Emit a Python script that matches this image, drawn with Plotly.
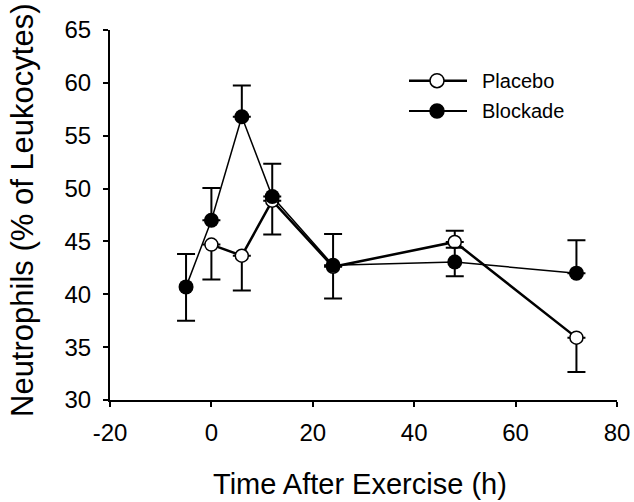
import plotly.graph_objects as go

# Data
time_blockade = [-5, 0, 6, 12, 24, 48, 72]
blockade = [40.7, 47.0, 56.8, 49.25, 42.75, 43.05, 42.0]
blockade_err_up = [3.1, 3.05, 2.95, 3.1, 2.95, 1.35, 3.1]
blockade_err_down = [3.2, 0, 0, 0, 0, 1.35, 0]

time_placebo = [0, 6, 12, 24, 48, 72]
placebo = [44.7, 43.65, 48.85, 42.6, 44.95, 35.9]
placebo_err_up = [0, 0, 0, 0, 1.05, 0]
placebo_err_down = [3.3, 3.3, 3.2, 3.0, 0, 3.25]

x_ticks = [-20, 0, 20, 40, 60, 80]
y_ticks = [30, 35, 40, 45, 50, 55, 60, 65]

legend_names = ["Placebo", "Blockade"]

font_family = "Liberation Sans, Arial, sans-serif"

W, H = 634, 502
L, R, T, B = 110, 17, 30, 102
PW, PH = W - L - R, H - T - B


def px_x(p):
    return (p - L) / PW


def px_y(p):
    return (H - B - p) / PH


fig = go.Figure()

fig.add_trace(go.Scatter(
    x=time_placebo, y=placebo, name=legend_names[0], mode="lines+markers",
    line=dict(color="black", width=2.5),
    marker=dict(symbol="circle", size=13, color="white",
                line=dict(color="black", width=1.5)),
    error_y=dict(type="data", symmetric=False, array=placebo_err_up,
                 arrayminus=placebo_err_down, color="black",
                 thickness=2, width=9),
))

fig.add_trace(go.Scatter(
    x=time_blockade, y=blockade, name=legend_names[1], mode="lines+markers",
    line=dict(color="black", width=1.5),
    marker=dict(symbol="circle", size=15, color="black",
                line=dict(color="black", width=0)),
    error_y=dict(type="data", symmetric=False, array=blockade_err_up,
                 arrayminus=blockade_err_down, color="black",
                 thickness=2, width=9),
))

# Custom legend (longer line samples, as in the reference)
shapes = []
annotations = []
legend_rows = [(legend_names[0], 80.7, "white", 2.5), (legend_names[1], 111, "black", 1.8)]
for name, py, fill, lw in legend_rows:
    shapes.append(dict(type="line", xref="paper", yref="paper",
                       x0=px_x(409), x1=px_x(467), y0=px_y(py), y1=px_y(py),
                       line=dict(color="black", width=lw)))
    shapes.append(dict(type="circle", xref="paper", yref="paper",
                       xsizemode="pixel", ysizemode="pixel",
                       xanchor=px_x(437), yanchor=px_y(py),
                       x0=-7, x1=7, y0=-7, y1=7,
                       fillcolor=fill, line=dict(color="black", width=1.5)))
    annotations.append(dict(text=name, xref="paper", yref="paper",
                            x=px_x(480), y=px_y(py), xanchor="left", yanchor="middle",
                            showarrow=False, font=dict(size=20, color="black")))

# Axis titles
annotations.append(dict(text="Time After Exercise (h)", xref="paper", yref="paper",
                        x=px_x(359.5), y=px_y(484), xanchor="center", yanchor="middle",
                        showarrow=False, font=dict(size=29, color="black")))
annotations.append(dict(text="Neutrophils (% of Leukocytes)", xref="paper", yref="paper",
                        x=px_x(22), y=px_y(210), xanchor="center", yanchor="middle",
                        textangle=-90, showarrow=False, font=dict(size=31, color="black")))

fig.update_layout(
    width=W, height=H,
    margin=dict(l=L, r=R, t=T, b=B),
    paper_bgcolor="white", plot_bgcolor="white",
    font=dict(family=font_family, size=24, color="black"),
    showlegend=False,
    shapes=shapes,
    annotations=annotations,
    xaxis=dict(range=[-20, 80], tickvals=x_ticks, ticktext=[str(v) for v in x_ticks],
               showgrid=False, zeroline=False, showline=True, linecolor="black",
               linewidth=2, ticks="outside", ticklen=5, tickwidth=2, tickcolor="black",
               ticklabelstandoff=5, automargin=False),
    yaxis=dict(range=[30, 65], tickvals=y_ticks, ticktext=[str(v) for v in y_ticks],
               showgrid=False, zeroline=False, showline=True, linecolor="black",
               linewidth=2, ticks="outside", ticklen=5, tickwidth=2, tickcolor="black",
               ticklabelstandoff=7, automargin=False),
)

fig.write_html("out.html")
